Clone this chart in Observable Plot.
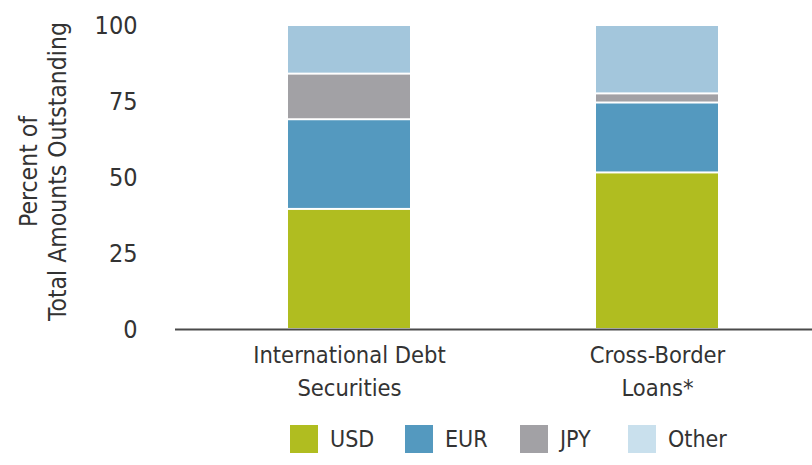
<!DOCTYPE html>
<html>
<head>
<meta charset="utf-8">
<script src="https://cdn.jsdelivr.net/npm/d3@7"></script>
<script src="https://cdn.jsdelivr.net/npm/@observablehq/plot@0.6"></script>
<style>
  body { margin: 0; background: #fff; }
  #chart { width: 812px; font-family: "Liberation Sans Narrow", "DejaVu Sans Condensed", sans-serif; color: #333; }
  .legend { display: flex; align-items: center; height: 55px; padding-left: 290px; box-sizing: border-box; padding-top: 2px;
            font-family: "Liberation Sans Narrow", "DejaVu Sans Condensed", sans-serif; font-size: 23px; color: #333; }
  .item { display: flex; align-items: center; width: 115px; }
  .item:nth-child(3) { width: 108px; }
  .sw { width: 28px; height: 28px; margin-right: 12px; }
</style>
</head>
<body>
<div id="chart"></div>
<script>
const categories = ["International Debt\nSecurities", "Cross-Border\nLoans*"];
const currencies = ["USD", "EUR", "JPY", "Other"];
const usd = [39.5, 51.5];
const eur = [29.5, 23];
const jpy = [15, 3];
const other = [16, 22.5];
const barColors = ["#b0bd20", "#5499bf", "#a2a1a5", "#a3c6dc"];
const legendColors = ["#b0bd20", "#5499bf", "#a2a1a5", "#c9e0ed"];
const yTicks = [0, 25, 50, 75, 100];
const yLabel = "Percent of\nTotal Amounts Outstanding";

const series = [usd, eur, jpy, other];
const data = [];
categories.forEach((c, i) => {
  currencies.forEach((cur, j) => data.push({category: c, currency: cur, value: series[j][i]}));
});

const font = "'Liberation Sans Narrow', 'DejaVu Sans Condensed', sans-serif";

const plot = Plot.plot({
  width: 812,
  height: 410,
  marginLeft: 175,
  marginRight: 0,
  marginTop: 25,
  marginBottom: 81,
  style: {fontFamily: font, color: "#333", background: "#fff"},
  x: {domain: categories, paddingInner: 0.604, paddingOuter: 0.334, align: 0.545, label: null},
  y: {domain: [0, 100], label: null},
  color: {domain: currencies, range: barColors},
  marks: [
    Plot.barY(data, Plot.stackY({x: "category", y: "value", fill: "currency", order: currencies, insetTop: 1, insetBottom: 1})),
    Plot.ruleY([0], {stroke: "#4a4a4a", strokeWidth: 2}),
    Plot.axisY({ticks: yTicks, tickSize: 0, tickPadding: 38, fontSize: 25, label: null, fill: "#333"}),
    Plot.axisX({tickSize: 0, tickPadding: 10, fontSize: 23.5, lineHeight: 1.4, label: null, fill: "#333"}),
    Plot.text([yLabel], {frameAnchor: "left", dx: -133, dy: -6, rotate: -90, fontSize: 24.5, lineHeight: 1.18, fill: "#333", textAnchor: "middle"})
  ]
});
document.getElementById("chart").appendChild(plot);

const legend = document.createElement("div");
legend.className = "legend";
currencies.forEach((c, i) => {
  const item = document.createElement("div");
  item.className = "item";
  const sw = document.createElement("div");
  sw.className = "sw";
  sw.style.background = legendColors[i];
  const label = document.createElement("span");
  label.textContent = c;
  item.appendChild(sw);
  item.appendChild(label);
  legend.appendChild(item);
});
document.getElementById("chart").appendChild(legend);
</script>
</body>
</html>
